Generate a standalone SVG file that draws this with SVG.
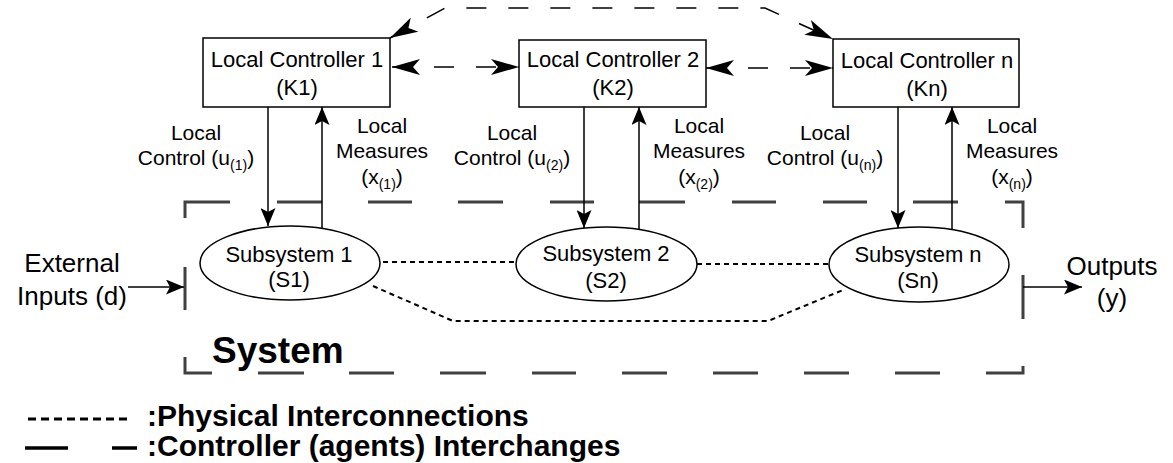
<svg xmlns="http://www.w3.org/2000/svg" width="1173" height="463" viewBox="0 0 1173 463">
<style>
text{font-family:"Liberation Sans",Arial,sans-serif;fill:#000}
.box{fill:#fff;stroke:#000;stroke-width:1.5}
.ell{fill:#fff;stroke:#000;stroke-width:1.5}
.t22{font-size:22px}
.t21{font-size:21px}
.t26{font-size:26px}
.sub{font-size:14px}
.bold{font-weight:bold}
.sys{fill:none;stroke:#404040;stroke-width:3}
.solid{fill:none;stroke:#000;stroke-width:1.5}
.inter{fill:none;stroke:#000;stroke-width:1.5;stroke-dasharray:20 22}
.phys{fill:none;stroke:#000;stroke-width:2;stroke-dasharray:5 4}
</style>
<defs>
<marker id="big" viewBox="0 0 28 16" refX="28" refY="8" markerWidth="28" markerHeight="16" markerUnits="userSpaceOnUse" orient="auto-start-reverse"><path d="M0,0 L28,8 L0,16 L7,8 Z" fill="#000"/></marker>
<marker id="small" viewBox="0 0 18 15" refX="18" refY="7.5" markerWidth="18" markerHeight="15" markerUnits="userSpaceOnUse" orient="auto-start-reverse"><path d="M0,0 L18,7.5 L0,15 L4,7.5 Z" fill="#000"/></marker>
</defs>

<g id="system-boundary">
<path class="sys" d="M185,218 V202 H230 M277,202 H322 M368,202 H412 M458,202 H503 M550,202 H594 M639,202 H685 M732,202 H776 M823,202 H867 M913,202 H958 M1005,202 H1023 V228 M1023,275 V319 M1023,366 V373 H986 M940,373 H895 M849,373 H804 M758,373 H713 M667,373 H622 M576,373 H532 M486,373 H440 M394,373 H349 M304,373 H258 M212,373 H185 V357 M185,310 V267"/>
<text class="bold" x="212" y="363" style="font-size:37px">System</text>
</g>

<g id="K1">
<rect class="box" x="203" y="38" width="187" height="69"/>
<text class="t22" x="297" y="67" text-anchor="middle">Local Controller 1</text>
<text class="t22" x="297" y="95" text-anchor="middle">(K1)</text>
</g>
<g id="K2">
<rect class="box" x="519" y="40" width="187" height="67"/>
<text class="t22" x="613" y="67" text-anchor="middle">Local Controller 2</text>
<text class="t22" x="613" y="95" text-anchor="middle">(K2)</text>
</g>
<g id="Kn">
<rect class="box" x="833" y="39" width="186" height="68"/>
<text class="t22" x="927" y="68" text-anchor="middle">Local Controller n</text>
<text class="t22" x="927" y="96" text-anchor="middle">(Kn)</text>
</g>

<g id="S1">
<ellipse class="ell" cx="290" cy="263" rx="90" ry="37"/>
<text class="t22" x="289" y="262" text-anchor="middle">Subsystem 1</text>
<text class="t22" x="289" y="287" text-anchor="middle">(S1)</text>
</g>
<g id="S2">
<ellipse class="ell" cx="606.5" cy="264" rx="90.5" ry="37"/>
<text class="t22" x="606" y="261" text-anchor="middle">Subsystem 2</text>
<text class="t22" x="606" y="288" text-anchor="middle">(S2)</text>
</g>
<g id="Sn">
<ellipse class="ell" cx="919" cy="264.5" rx="90" ry="37.5"/>
<text class="t22" x="918" y="262" text-anchor="middle">Subsystem n</text>
<text class="t22" x="918" y="288" text-anchor="middle">(Sn)</text>
</g>

<g id="connectors">
<line class="inter" x1="392" y1="67" x2="519" y2="67" marker-start="url(#big)" marker-end="url(#big)"/>
<line class="inter" x1="706" y1="68" x2="833" y2="68" marker-start="url(#big)" marker-end="url(#big)"/>
<path class="inter" d="M390,38 L445,8 L765,8 L833,39" marker-start="url(#big)" marker-end="url(#big)"/>

<line class="solid" x1="268" y1="107" x2="268" y2="226" marker-end="url(#small)"/>
<line class="solid" x1="322" y1="228" x2="322" y2="107" marker-end="url(#small)"/>
<line class="solid" x1="584" y1="107" x2="584" y2="228" marker-end="url(#small)"/>
<line class="solid" x1="639" y1="229" x2="639" y2="107" marker-end="url(#small)"/>
<line class="solid" x1="898" y1="107" x2="898" y2="228" marker-end="url(#small)"/>
<line class="solid" x1="952" y1="229" x2="952" y2="107" marker-end="url(#small)"/>

<line class="solid" x1="128" y1="287" x2="184" y2="287" marker-end="url(#small)"/>
<line class="solid" x1="1023" y1="287" x2="1082" y2="287" marker-end="url(#small)"/>

<line class="phys" x1="383" y1="262" x2="516" y2="262"/>
<line class="phys" x1="697" y1="264" x2="829" y2="264"/>
<polyline class="phys" points="373,286 453,321 768,321 843,290"/>
</g>

<g id="labels">
<text class="t21" text-anchor="middle"><tspan x="196" y="140">Local</tspan><tspan x="196" y="165">Control (u<tspan class="sub" dy="5">(1)</tspan><tspan dy="-5">)</tspan></tspan></text>
<text class="t21" text-anchor="middle"><tspan x="382" y="133">Local</tspan><tspan x="382" y="158">Measures</tspan><tspan x="382" y="184">(x<tspan class="sub" dy="5">(1)</tspan><tspan dy="-5">)</tspan></tspan></text>
<text class="t21" text-anchor="middle"><tspan x="512" y="140">Local</tspan><tspan x="512" y="165">Control (u<tspan class="sub" dy="5">(2)</tspan><tspan dy="-5">)</tspan></tspan></text>
<text class="t21" text-anchor="middle"><tspan x="699" y="133">Local</tspan><tspan x="699" y="158">Measures</tspan><tspan x="699" y="184">(x<tspan class="sub" dy="5">(2)</tspan><tspan dy="-5">)</tspan></tspan></text>
<text class="t21" text-anchor="middle"><tspan x="825" y="140">Local</tspan><tspan x="825" y="165">Control (u<tspan class="sub" dy="5">(n)</tspan><tspan dy="-5">)</tspan></tspan></text>
<text class="t21" text-anchor="middle"><tspan x="1012" y="133">Local</tspan><tspan x="1012" y="158">Measures</tspan><tspan x="1012" y="184">(x<tspan class="sub" dy="5">(n)</tspan><tspan dy="-5">)</tspan></tspan></text>
<text class="t26" text-anchor="middle"><tspan x="72" y="272">External</tspan><tspan x="72" y="305">Inputs (d)</tspan></text>
<text class="t26" text-anchor="middle"><tspan x="1112" y="275">Outputs</tspan><tspan x="1112" y="307">(y)</tspan></text>
</g>

<g id="legend">
<line x1="28" y1="419" x2="128" y2="419" stroke="#000" stroke-width="3" stroke-dasharray="8 5"/>
<text class="bold" x="147" y="426" style="font-size:30px">:Physical Interconnections</text>
<line x1="25" y1="448" x2="68" y2="448" stroke="#000" stroke-width="3.5"/>
<line x1="112" y1="448" x2="137" y2="448" stroke="#000" stroke-width="3.5"/>
<text class="bold" x="147" y="456" style="font-size:30px">:Controller (agents) Interchanges</text>
</g>
</svg>
